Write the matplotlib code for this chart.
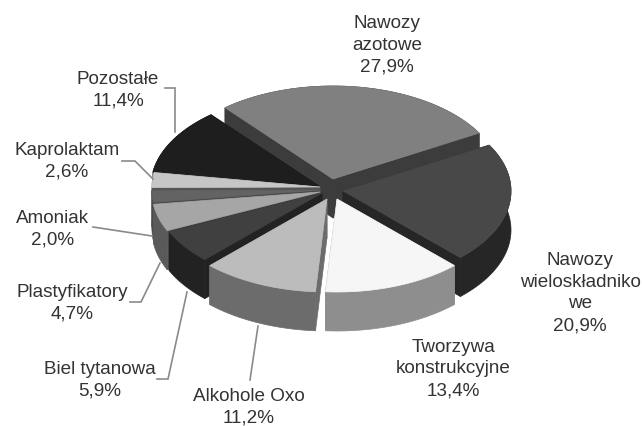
#!/usr/bin/env python
# -*- coding: utf-8 -*-
import numpy as np
import matplotlib
matplotlib.use('Agg')
import matplotlib.pyplot as plt
from matplotlib.patches import Polygon

names = ['Nawozy\nazotowe', 'Nawozy\nwieloskładniko\nwe', 'Tworzywa\nkonstrukcyjne',
         'Alkohole Oxo', 'Biel tytanowa', 'Plastyfikatory', 'Amoniak',
         'Kaprolaktam', 'Pozostałe']
values = [27.9, 20.9, 13.4, 11.2, 5.9, 4.7, 2.0, 2.6, 11.4]

top_colors = ['#808080', '#484848', '#f6f6f6', '#bcbcbc', '#404040',
              '#a6a6a6', '#636363', '#c6c6c6', '#1e1e1e']
side_colors = ['#3c3c3c', '#262626', '#8e8e8e', '#6c6c6c', '#222222',
               '#5a5a5a', '#4a4a4a', '#555555', '#181818']
# przesuniecia wycinkow od srodka (px)
shift_x = [5, 15, 9, -1, -6, -8, -8, -8, -9]
shift_y = [-8, 4, 12, 12, 6, 5, 3, 0, -1]

label_x = [387, 580, 453, 249, 100, 72, 53, 67, 118]
label_y = [45, 293, 369, 407, 380, 303, 229, 161, 90]

# linie odniesienia etykiet
leaders = {
    'Pozostałe': [(165, 89), (175, 89), (175, 133)],
    'Kaprolaktam': [(122, 162), (135, 162), (153, 180)],
    'Amoniak': [(93, 228), (152, 237)],
    'Plastyfikatory': [(130, 303), (141, 303), (160, 264)],
    'Biel tytanowa': [(157, 380), (168, 380), (187, 293)],
    'Alkohole Oxo': [(250, 381), (258, 327)],
}

CX, CY = 328, 188
A, B = 168, 93
H = 39
START = 130.0

plt.rcParams['font.family'] = ['Liberation Sans', 'DejaVu Sans']

fig = plt.figure(figsize=(6.42, 4.27), dpi=100)
ax = fig.add_axes([0, 0, 1, 1])
ax.set_xlim(0, 642)
ax.set_ylim(427, 0)
ax.axis('off')


def rim(x0, y0, t0, t1):
    t = np.radians(np.linspace(t0, t1, 80))
    return x0 + A * np.cos(t), y0 - B * np.sin(t)


ends = START - np.cumsum(values) * 3.6
begins = np.r_[START, ends[:-1]]
mids = (begins + ends) / 2

# najpierw wycinki z tylu, potem te z przodu
order = sorted(range(len(values)), key=lambda i: -np.sin(np.radians(mids[i])))

for i in order:
    x0, y0 = CX + shift_x[i], CY + shift_y[i]
    xs, ys = rim(x0, y0, begins[i], ends[i])
    edge = dict(fc=side_colors[i], ec=side_colors[i], lw=0.5)
    # sciany boczne przy srodku
    for px, py in [(xs[0], ys[0]), (xs[-1], ys[-1])]:
        ax.add_patch(Polygon([(x0, y0), (px, py), (px, py + H), (x0, y0 + H)], **edge))
    # sciana zewnetrzna
    wall = np.c_[np.r_[xs, xs[::-1]], np.r_[ys, ys[::-1] + H]]
    ax.add_patch(Polygon(wall, **edge))
    top = np.c_[np.r_[x0, xs], np.r_[y0, ys]]
    ax.add_patch(Polygon(top, fc=top_colors[i], ec=top_colors[i], lw=0.5))

for pts in leaders.values():
    ax.plot(*zip(*pts), color='#8a8a8a', lw=1.2, solid_joinstyle='miter')

for name, v, x, y in zip(names, values, label_x, label_y):
    text = name + '\n' + ('%.1f%%' % v).replace('.', ',')
    ax.text(x, y, text, ha='center', va='center', fontsize=13.6,
            color='#333333', linespacing=1.36)

fig.savefig('out.png', dpi=100)
